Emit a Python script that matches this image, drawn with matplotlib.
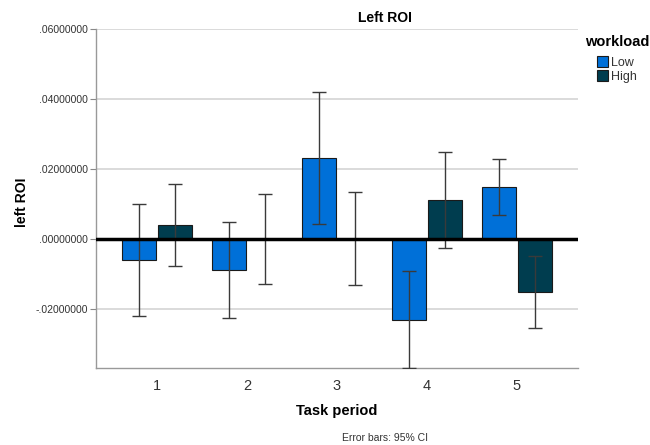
import numpy as np
import matplotlib.pyplot as plt
from matplotlib.patches import Patch

plt.rcParams['font.family'] = ['Liberation Sans', 'DejaVu Sans']

# --- data ---
periods = ['1', '2', '3', '4', '5']
low_mean = [-0.0060, -0.0090, 0.0230, -0.0231, 0.0148]
low_lo = [-0.0219, -0.0225, 0.0043, -0.0370, 0.0068]
low_hi = [0.0100, 0.0047, 0.0420, -0.0093, 0.0227]
high_mean = [0.0040, 0.0000, 0.0001, 0.0110, -0.0152]
high_lo = [-0.0077, -0.0129, -0.0131, -0.0027, -0.0256]
high_hi = [0.0158, 0.0128, 0.0133, 0.0247, -0.0049]
yticks = [-0.02, 0.0, 0.02, 0.04, 0.06]

low_col = '#0070D8'
high_col = '#003D4F'

fig = plt.figure(figsize=(6.5, 4.45), dpi=100)
ax = fig.add_axes([0.1477, 0.173, 0.7415, 0.762])

x = np.arange(1, len(periods) + 1)
off, w = 0.2, 0.37

for xs, m, lo, hi, c in [(x - off, low_mean, low_lo, low_hi, low_col),
                         (x + off, high_mean, high_lo, high_hi, high_col)]:
    m = np.array(m)
    ax.bar(xs, m, width=w, color=c, edgecolor='#1a1a1a', linewidth=0.8, zorder=2)
    err = [m - np.array(lo), np.array(hi) - m]
    ax.errorbar(xs, m, yerr=err, fmt='none', ecolor='#3a3a3a', elinewidth=1.0,
                capsize=5, capthick=1.0, zorder=3, clip_on=True)

ax.axhline(0, color='black', linewidth=2.5, zorder=4)

ax.set_xlim(0.322, 5.678)
ax.set_ylim(-0.0369, 0.06)
ax.set_xticks(x)
ax.set_xticklabels(periods, fontsize=10.5, color='#333333')
ax.set_yticks(yticks)
ax.set_yticklabels(['-.02000000' if v < 0 else '.%08d' % round(v * 1e8) for v in yticks],
                   fontsize=7.5, color='#333333')
ax.tick_params(axis='x', length=0, pad=8)
ax.tick_params(axis='y', length=4, color='#888888', pad=2)

for v in [-0.02, 0.02, 0.04, 0.06]:
    ax.axhline(v, color='#d4d4d4', linewidth=1.2, zorder=1)

for s in ['top', 'right']:
    ax.spines[s].set_visible(False)
for s in ['left', 'bottom']:
    ax.spines[s].set_color('#999999')
    ax.spines[s].set_linewidth(1.0)

fig.text(385 / 650, 1 - 18 / 445, 'Left ROI', ha='center', va='center',
         fontsize=10, fontweight='bold')
fig.text(22 / 650, 1 - 202 / 445, 'left ROI', ha='center', va='center',
         rotation=90, fontsize=10, fontweight='bold')
fig.text(337 / 650, 1 - 411 / 445, 'Task period', ha='center', va='center',
         fontsize=10.5, fontweight='bold')
fig.text(385 / 650, 1 - 438 / 445, 'Error bars: 95% CI', ha='center', va='center',
         fontsize=7.5, color='#333333')

fig.text(585 / 650, 1 - 42 / 445, 'workload', ha='left', va='center',
         fontsize=10.5, fontweight='bold')
handles = [Patch(facecolor=low_col, edgecolor='#1a1a1a', linewidth=0.8),
           Patch(facecolor=high_col, edgecolor='#1a1a1a', linewidth=0.8)]
fig.legend(handles, ['Low', 'High'], loc='upper left',
           bbox_to_anchor=(597 / 650, 1 - 56 / 445), frameon=False,
           fontsize=9, handlelength=0.9, handleheight=1.0, handletextpad=0.25,
           labelspacing=0.1, borderpad=0, borderaxespad=0, labelcolor='#333333')

fig.savefig('out.png', dpi=100)
